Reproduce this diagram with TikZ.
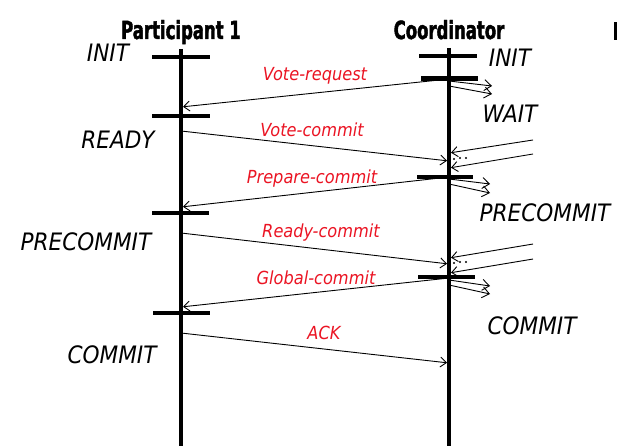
\documentclass[tikz,border=0pt]{standalone}
\usepackage{fontspec}
\usetikzlibrary{arrows.meta}
\newfontfamily\statefont{DejaVu Sans Oblique}[FakeStretch=0.9]
\newfontfamily\headfont{DejaVu Sans Bold}[FakeStretch=0.66,FakeBold=1.6]
\definecolor{msgred}{RGB}{235,20,35}
\tikzset{
  lifeline/.style={line width=4pt},
  statebar/.style={line width=4.2pt},
  msg/.style={line width=0.9pt, -{Straight Barb[length=6pt,width=10pt,line width=0.9pt]}, shorten >=2pt},
  fanout/.style={line width=0.9pt, -{Straight Barb[length=7pt,width=11pt,line width=0.9pt]}},
  statelbl/.style={font=\statefont\fontsize{24}{24}\selectfont, anchor=base, inner sep=0pt},
  msglbl/.style={font=\statefont\fontsize{18}{18}\selectfont, text=msgred, anchor=base, inner sep=0pt},
  headlbl/.style={font=\headfont\fontsize{25}{25}\selectfont, anchor=base, inner sep=0pt},
  dot/.style={circle, fill=black, inner sep=0pt, minimum size=2.2pt}
}
\begin{document}
\begin{tikzpicture}[x=1pt,y=-1pt]
\useasboundingbox (0,0) rectangle (617,446);
\fill[white] (0,0) rectangle (617,446);

% headers
\node[headlbl] (hp) at (181,39) {Participant 1};
\node[headlbl] (hc) at (449,39) {Coordinator};
\fill (614,22) rectangle (617,40);

% lifelines
\coordinate (ptop) at (181,49);
\coordinate (pbot) at (181,446);
\coordinate (ctop) at (449,48);
\coordinate (cbot) at (449,446);
\draw[lifeline] (ptop) -- (pbot);
\draw[lifeline] (ctop) -- (cbot);

% participant state bars
\draw[statebar] (152,57) coordinate (pa1) -- (210,57) coordinate (pa2);
\draw[statebar] (152,116) coordinate (pb1) -- (210,116) coordinate (pb2);
\draw[statebar] (152,213) coordinate (pc1) -- (209,213) coordinate (pc2);
\draw[statebar] (153,313) coordinate (pd1) -- (210,313) coordinate (pd2);

% coordinator state bars
\draw[statebar] (419,56) coordinate (ca1) -- (477,56) coordinate (ca2);
\draw[statebar, line width=5pt] (421,79) coordinate (cb1) -- (478,79) coordinate (cb2);
\draw[statebar] (417,177) coordinate (cc1) -- (473,177) coordinate (cc2);
\draw[statebar] (418,277) coordinate (cd1) -- (475,277) coordinate (cd2);

% message end points
\coordinate (m1s) at (449,79);  \coordinate (m1e) at (181,107);
\coordinate (m2s) at (181,131); \coordinate (m2e) at (449,161);
\coordinate (m3s) at (449,177); \coordinate (m3e) at (181,207);
\coordinate (m4s) at (181,233); \coordinate (m4e) at (449,264);
\coordinate (m5s) at (449,278); \coordinate (m5e) at (181,307);
\coordinate (m6s) at (181,333); \coordinate (m6e) at (449,363);

\draw[msg] (m1s) -- (m1e);
\draw[msg] (m2s) -- (m2e);
\draw[msg] (m3s) -- (m3e);
\draw[msg] (m4s) -- (m4e);
\draw[msg] (m5s) -- (m5e);
\draw[msg] (m6s) -- (m6e);

% other participants: incoming
\coordinate (i1s) at (533,140); \coordinate (i1e) at (449,153);
\coordinate (i2s) at (533,154); \coordinate (i2e) at (449,168);
\coordinate (i3s) at (533,244); \coordinate (i3e) at (449,258);
\coordinate (i4s) at (533,259); \coordinate (i4e) at (449,273);
\draw[msg] (i1s) -- (i1e);
\draw[msg] (i2s) -- (i2e);
\draw[msg] (i3s) -- (i3e);
\draw[msg] (i4s) -- (i4e);

% other participants: outgoing
\coordinate (o1s) at (449,81);  \coordinate (o1e) at (492,86);
\coordinate (o2s) at (449,86);  \coordinate (o2e) at (492,94);
\coordinate (o3s) at (449,179); \coordinate (o3e) at (490,184);
\coordinate (o4s) at (449,184); \coordinate (o4e) at (490,193);
\coordinate (o5s) at (449,280); \coordinate (o5e) at (490,286);
\coordinate (o6s) at (449,285); \coordinate (o6e) at (490,294);
\draw[fanout] (o1s) -- (o1e);
\draw[fanout] (o2s) -- (o2e);
\draw[fanout] (o3s) -- (o3e);
\draw[fanout] (o4s) -- (o4e);
\draw[fanout] (o5s) -- (o5e);
\draw[fanout] (o6s) -- (o6e);

% dots
\node[dot] (d1) at (454,159) {};
\node[dot] (d2) at (460,158) {};
\node[dot] (d3) at (466,158) {};
\node[dot] (d4) at (454,263) {};
\node[dot] (d5) at (460,262) {};
\node[dot] (d6) at (466,262) {};

% message labels
\node[msglbl] (l1) at (315,81) {Vote-request};
\node[msglbl] (l2) at (312,137) {Vote-commit};
\node[msglbl] (l3) at (312,183) {Prepare-commit};
\node[msglbl] (l4) at (321,237) {Ready-commit};
\node[msglbl] (l5) at (316,284) {Global-commit};
\node[msglbl] (l6) at (324,339) {ACK};

% state labels participant
\node[statelbl] (s1) at (108,62) {INIT};
\node[statelbl] (s2) at (118,149) {READY};
\node[statelbl] (s3) at (86,250) {PRECOMMIT};
\node[statelbl] (s4) at (112,363) {COMMIT};

% state labels coordinator
\node[statelbl] (t1) at (510,67) {INIT};
\node[statelbl] (t2) at (510,123) {WAIT};
\node[statelbl] (t3) at (545,221) {PRECOMMIT};
\node[statelbl] (t4) at (532,334) {COMMIT};
\end{tikzpicture}
\end{document}
